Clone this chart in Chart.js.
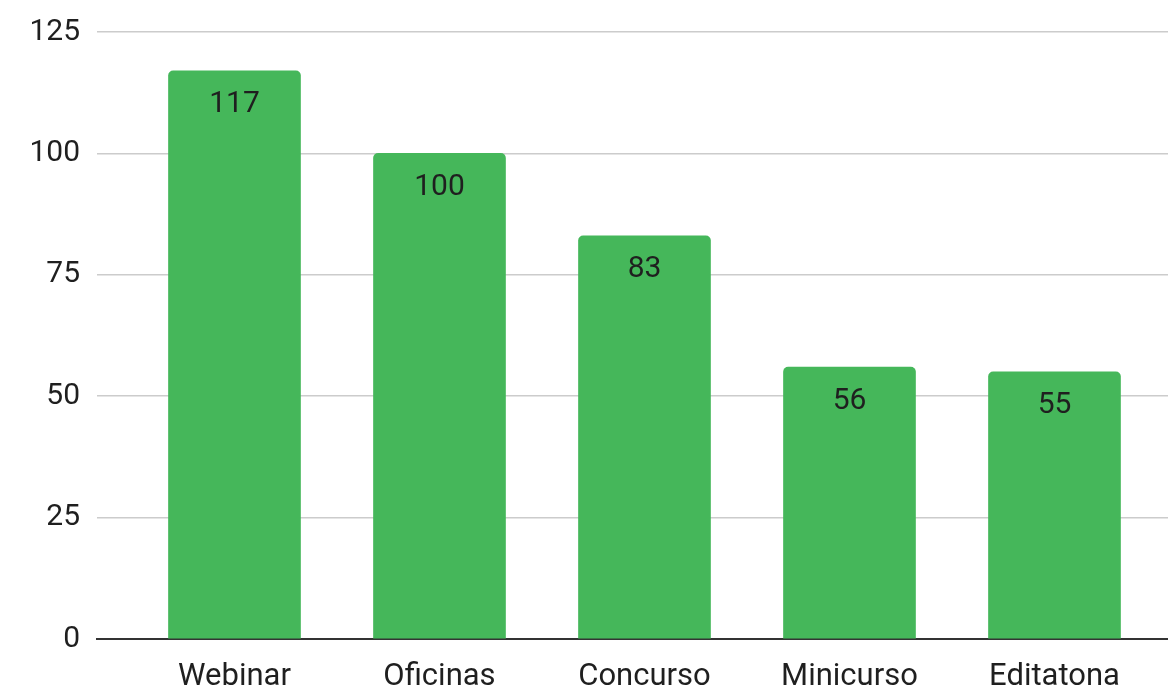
<!DOCTYPE html>
<html>
<head>
<meta charset="utf-8">
<script src="https://cdn.jsdelivr.net/npm/chart.js@4.4.1/dist/chart.umd.min.js"></script>
<style>
  html, body { margin: 0; padding: 0; background: #fff; }
  #wrap { width: 1168px; height: 686px; }
</style>
</head>
<body>
<div id="wrap"><canvas id="grafico"></canvas></div>
<script>
const categorias = ["Webinar", "Oficinas", "Concurso", "Minicurso", "Editatona"];
const valores = [117, 100, 83, 56, 55];
const ticksY = [0, 25, 50, 75, 100, 125];

const fuente = "Roboto, 'Liberation Sans', Arial, sans-serif";

// escribe el valor dentro de cada barra, cerca del borde superior
const etiquetasBarras = {
  id: "etiquetasBarras",
  afterDatasetsDraw(chart) {
    const ctx = chart.ctx;
    const meta = chart.getDatasetMeta(0);
    ctx.save();
    ctx.font = "30px " + fuente;
    ctx.fillStyle = "#1f1f1f";
    ctx.textAlign = "center";
    ctx.textBaseline = "middle";
    meta.data.forEach((bar, i) => {
      ctx.fillText(valores[i], bar.x, bar.y + 34);
    });
    ctx.restore();
  }
};

const ctx = document.getElementById("grafico").getContext("2d");
const grafico = new Chart(ctx, {
  type: "bar",
  data: {
    datasets: [{
      data: valores.map((v, i) => ({ x: i, y: v })),
      backgroundColor: "#45b75a",
      borderRadius: { topLeft: 5, topRight: 5 },
      borderSkipped: "start",
      barThickness: 132
    }]
  },
  options: {
    responsive: true,
    maintainAspectRatio: false,
    animation: false,
    layout: { padding: { top: 16, right: 0, left: 0, bottom: 0 } },
    plugins: {
      legend: { display: false },
      tooltip: { enabled: false }
    },
    scales: {
      x: {
        type: "linear",
        offset: false,
        min: -0.6707,
        max: 4.5537,
        grid: { display: false },
        border: { display: true, color: "#333333", width: 2 },
        afterBuildTicks: (axis) => {
          axis.ticks = categorias.map((c, i) => ({ value: i }));
        },
        afterFit: (axis) => { axis.height = 47; },
        ticks: {
          autoSkip: false,
          maxRotation: 0,
          padding: 12,
          color: "#1f1f1f",
          font: { family: fuente, size: 31 },
          callback: (v) => categorias[v] || ""
        }
      },
      y: {
        min: 0,
        max: 125,
        afterBuildTicks: (axis) => {
          axis.ticks = ticksY.map((v) => ({ value: v }));
        },
        afterFit: (axis) => { axis.width = 97; },
        border: { display: false },
        grid: {
          drawTicks: false,
          lineWidth: 1.5,
          color: (c) => c.tick && c.tick.value === 0 ? "rgba(0,0,0,0)" : "#cccccc"
        },
        ticks: {
          padding: 17,
          color: "#1f1f1f",
          font: { family: fuente, size: 30, lineHeight: 1.0 }
        }
      }
    }
  },
  plugins: [etiquetasBarras]
});
</script>
</body>
</html>
